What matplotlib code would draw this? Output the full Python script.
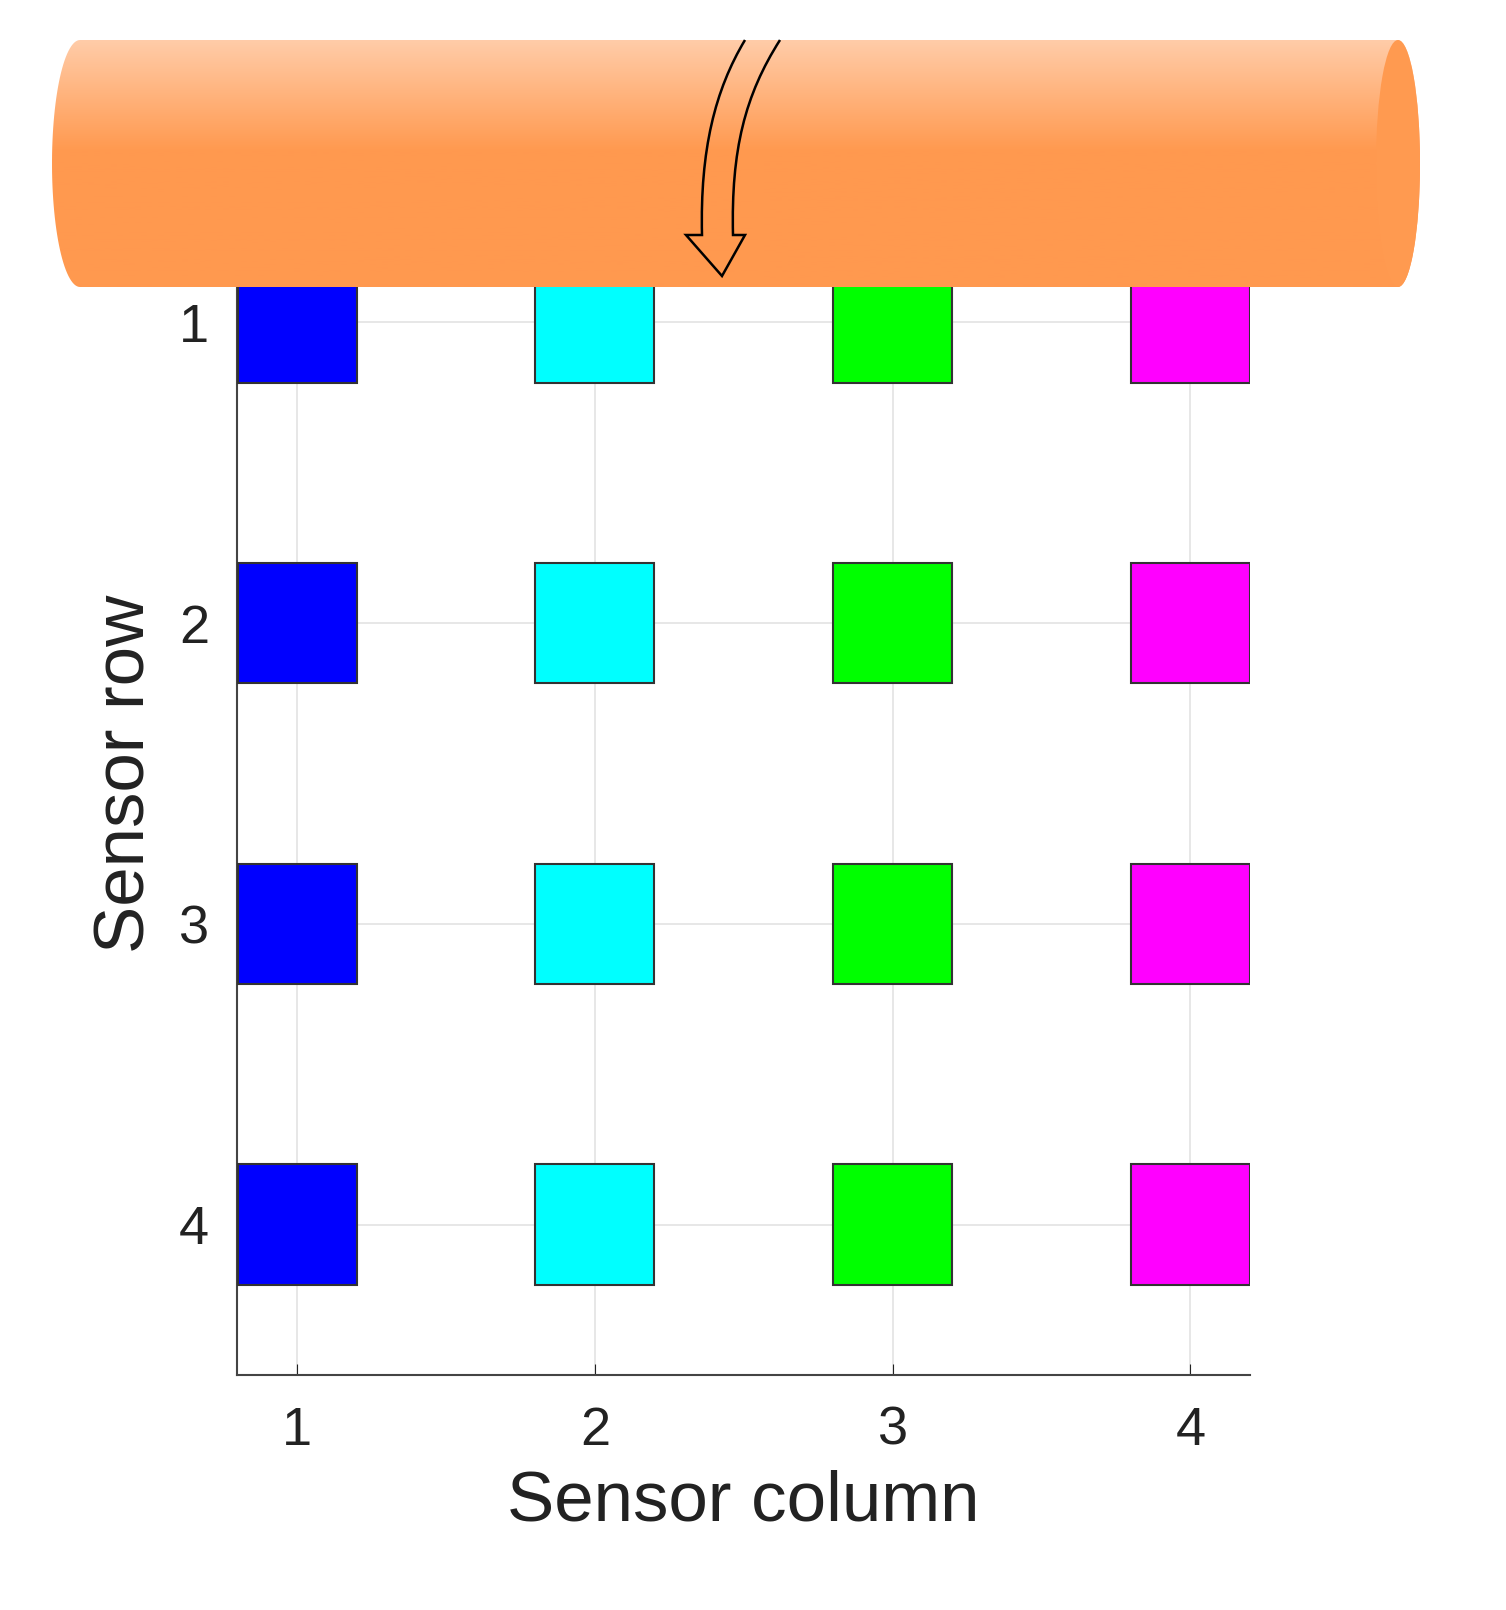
import matplotlib
matplotlib.use("Agg")
import matplotlib.pyplot as plt
import numpy as np
from matplotlib.path import Path
from matplotlib.patches import PathPatch, Rectangle, Ellipse

plt.rcParams['font.family'] = ['Liberation Sans', 'DejaVu Sans']

rows = [1, 2, 3, 4]
columns = [1, 2, 3, 4]
column_colors = ["#0000FF", "#00FFFF", "#00FF00", "#FF00FF"]
xticks = [1, 2, 3, 4]
yticks = [1, 2, 3, 4]
square_size = 0.4

fig = plt.figure(figsize=(15.06, 16.1), dpi=100)
ax = fig.add_axes([237/1506, 235/1610, 1013/1506, (1375-172)/1610])
ax.set_xlim(0.798, 4.2)
ax.set_ylim(4.5, 0.5)
ax.grid(True, color="#e3e3e3", lw=1.2)
ax.set_axisbelow(True)
for r in rows:
    for c, col in zip(columns, column_colors):
        ax.add_patch(Rectangle((c - square_size/2, r - square_size/2), square_size, square_size,
                               facecolor=col, edgecolor="#333333", lw=1.5, zorder=3))
ax.set_xticks(xticks)
ax.set_yticks(yticks)
ax.tick_params(labelsize=39, length=8, direction="in", colors="#222222")
ax.tick_params(axis="x", pad=22)
ax.tick_params(axis="y", pad=20)
ax.spines["top"].set_visible(False)
ax.spines["right"].set_visible(False)
for s in ["left", "bottom"]:
    ax.spines[s].set_color("#444444"); ax.spines[s].set_linewidth(1.5)
ax.set_xlabel("Sensor column", fontsize=51, color="#222222", labelpad=10)
ax.set_ylabel("Sensor row", fontsize=51, color="#222222", labelpad=14)

# cylinder overlay
ov = fig.add_axes([0, 0, 1, 1])
ov.set_xlim(0, 1506); ov.set_ylim(1610, 0); ov.axis("off")
top, bot = 40, 287
cy, h = (top+bot)/2, (bot-top)/2
t = np.linspace(np.pi/2, 3*np.pi/2, 60)
lx = 80 + 28*np.cos(t); ly = cy - h*np.sin(t)
t2 = np.linspace(-np.pi/2, np.pi/2, 60)
rx = 1398 + 22*np.cos(t2); ry = cy - h*np.sin(t2)
pts = [(1398, top)] + [(x, y) for x, y in zip(lx, ly)] + [(x, y) for x, y in zip(rx, ry)]
path = Path(pts + [pts[0]], closed=True)
grad = np.linspace(0, 1, 256).reshape(-1, 1)
c_top = np.array([1.0, 0.80, 0.66]); c_mid = np.array([1.0, 0.60, 0.31])
w = np.clip(grad/0.45, 0, 1)
img = c_top*(1-w)[..., None] + c_mid*w[..., None]
img = img.reshape(256, 1, 3)
im = ov.imshow(img, extent=(0, 1506, bot, top), aspect="auto", zorder=5)
pp = PathPatch(path, facecolor="none", edgecolor="none")
ov.add_patch(pp); im.set_clip_path(pp)
cap = Ellipse((1398, cy), 44, bot-top, facecolor="#FF9A50", edgecolor="none", zorder=6)
ov.add_patch(cap)

# arrow
arrow = [(745, 40), (715, 90), (700, 150), (702, 235), (686, 235), (722, 276), (745, 235),
         (733, 235), (731, 150), (745, 95), (780, 40)]
codes = [Path.MOVETO, Path.CURVE4, Path.CURVE4, Path.CURVE4, Path.LINETO, Path.LINETO,
         Path.LINETO, Path.LINETO, Path.CURVE4, Path.CURVE4, Path.CURVE4]
ov.add_patch(PathPatch(Path(arrow, codes), facecolor="none", edgecolor="black", lw=1.8, zorder=7))

fig.savefig("out.png", dpi=100, facecolor="white")
